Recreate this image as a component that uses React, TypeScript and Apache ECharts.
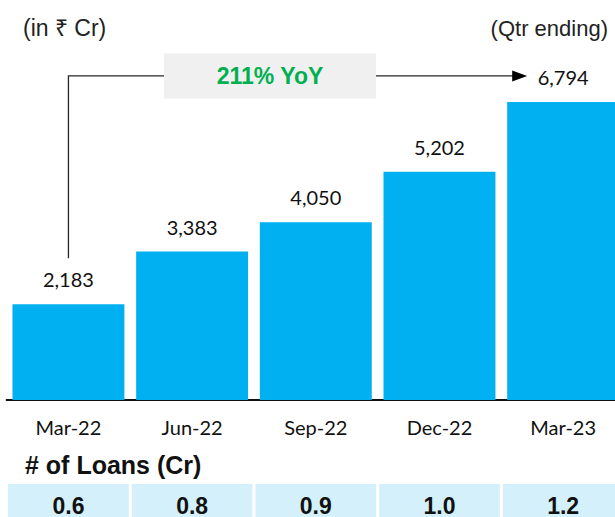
import React, { useEffect, useRef } from "react";
import * as echarts from "echarts";

const categories = ["Mar-22", "Jun-22", "Sep-22", "Dec-22", "Mar-23"];
const amounts = [2183, 3383, 4050, 5202, 6794];
const loans = [0.6, 0.8, 0.9, 1.0, 1.2];
const unitText = "(in ₹ Cr)";
const periodText = "(Qtr ending)";
const loansTitle = "# of Loans (Cr)";

const ARIAL = "'Liberation Sans', Arial, sans-serif";
const CAL = "Lato, 'Open Sans', sans-serif";
const BAR = "#00b0f0";
const CELL = "#d3f0fb";
const LINE = "#262626";

export default function App() {
  const ref = useRef<HTMLDivElement>(null);
  useEffect(() => {
    const chart = echarts.init(ref.current!, null, { renderer: "svg" });
    const gridLeft = 6.6;
    const gridRight = 1;
    chart.setOption({
      animation: false,
      backgroundColor: "#ffffff",
      grid: [
        { left: gridLeft, right: gridRight, top: 49, bottom: 117 },
        { left: gridLeft, right: gridRight, top: 484, height: 44 },
      ],
      xAxis: [
        {
          type: "category",
          gridIndex: 0,
          data: categories,
          axisLine: { show: true, lineStyle: { color: "#111", width: 2 } },
          axisTick: { show: false },
          axisLabel: { color: "#111", fontFamily: CAL, fontSize: 20, margin: 17 },
        },
        { type: "category", gridIndex: 1, data: categories, show: false },
      ],
      yAxis: [
        { type: "value", gridIndex: 0, min: 0, max: 8000, show: false, splitLine: { show: false } },
        { type: "value", gridIndex: 1, min: 0, max: 1, show: false, splitLine: { show: false } },
      ],
      series: [
        {
          type: "bar",
          xAxisIndex: 0,
          yAxisIndex: 0,
          data: amounts,
          barCategoryGap: "9.5%",
          itemStyle: { color: BAR },
          label: {
            show: true,
            position: "top",
            distance: 15,
            color: "#111",
            fontFamily: CAL,
            fontSize: 20,
            formatter: (p: any) => Number(p.value).toLocaleString("en-US"),
          },
        },
        {
          type: "custom",
          xAxisIndex: 1,
          yAxisIndex: 1,
          data: loans.map((v, i) => [i, v]),
          encode: { x: 0, y: 1 },
          renderItem: (params: any, api: any) => {
            const idx = api.value(0);
            const c = api.coord([idx, 0]);
            const w = api.size([1, 0])[0] - 3;
            const cs = params.coordSys;
            return {
              type: "group",
              children: [
                {
                  type: "rect",
                  shape: { x: c[0] - w / 2, y: cs.y, width: w, height: cs.height },
                  style: { fill: CELL },
                },
                {
                  type: "text",
                  x: c[0],
                  y: cs.y + 22,
                  style: {
                    text: Number(api.value(1)).toFixed(1),
                    fill: "#111",
                    fontFamily: ARIAL,
                    fontWeight: "bold",
                    fontSize: 23,
                    textAlign: "center",
                    textVerticalAlign: "middle",
                  },
                },
              ],
            };
          },
        },
      ],
    });

    const p0 = chart.convertToPixel({ gridIndex: 0 }, [0, amounts[0]]) as number[];
    const p4 = chart.convertToPixel({ gridIndex: 0 }, [4, amounts[4]]) as number[];
    const lineY = p4[1] - 26;
    const vBottom = p0[1] - 46;
    const tipX = p4[0] - 36;
    const boxL = 164;
    const boxR = 376;
    const yoy = Math.round((amounts[4] / amounts[0] - 1) * 100);

    chart.setOption({
      graphic: [
        {
          type: "text",
          x: 23,
          y: 28,
          style: { text: unitText, fill: "#222", fontFamily: ARIAL, fontSize: 23, textAlign: "left", textVerticalAlign: "middle" },
        },
        {
          type: "text",
          x: 608,
          y: 28,
          style: { text: periodText, fill: "#222", fontFamily: ARIAL, fontSize: 22, textAlign: "right", textVerticalAlign: "middle" },
        },
        {
          type: "polyline",
          shape: { points: [[p0[0], vBottom], [p0[0], lineY], [boxL, lineY]] },
          style: { stroke: LINE, lineWidth: 1.3, fill: "none" },
        },
        {
          type: "line",
          shape: { x1: boxR, y1: lineY, x2: tipX - 12, y2: lineY },
          style: { stroke: LINE, lineWidth: 1.3 },
        },
        {
          type: "polygon",
          shape: { points: [[tipX - 15, lineY - 5.5], [tipX, lineY], [tipX - 15, lineY + 5.5]] },
          style: { fill: "#000" },
        },
        {
          type: "rect",
          shape: { x: boxL, y: lineY - 22.5, width: boxR - boxL, height: 45 },
          style: { fill: "#f0f0f0" },
        },
        {
          type: "text",
          x: (boxL + boxR) / 2,
          y: lineY,
          style: {
            text: `${yoy}% YoY`,
            fill: "#00b050",
            fontFamily: ARIAL,
            fontWeight: "bold",
            fontSize: 23,
            textAlign: "center",
            textVerticalAlign: "middle",
          },
        },
        {
          type: "text",
          x: 25,
          y: 465,
          style: {
            text: loansTitle,
            fill: "#111",
            fontFamily: ARIAL,
            fontWeight: "bold",
            fontSize: 25,
            textAlign: "left",
            textVerticalAlign: "middle",
          },
        },
      ],
    });
    return () => chart.dispose();
  }, []);
  return (
    <div style={{ position: "fixed", left: 0, top: 0, width: 615, height: 517, overflow: "hidden" }}>
      <div ref={ref} style={{ position: "absolute", left: 0, top: 0, width: 626, height: 517 }} />
    </div>
  );
}
